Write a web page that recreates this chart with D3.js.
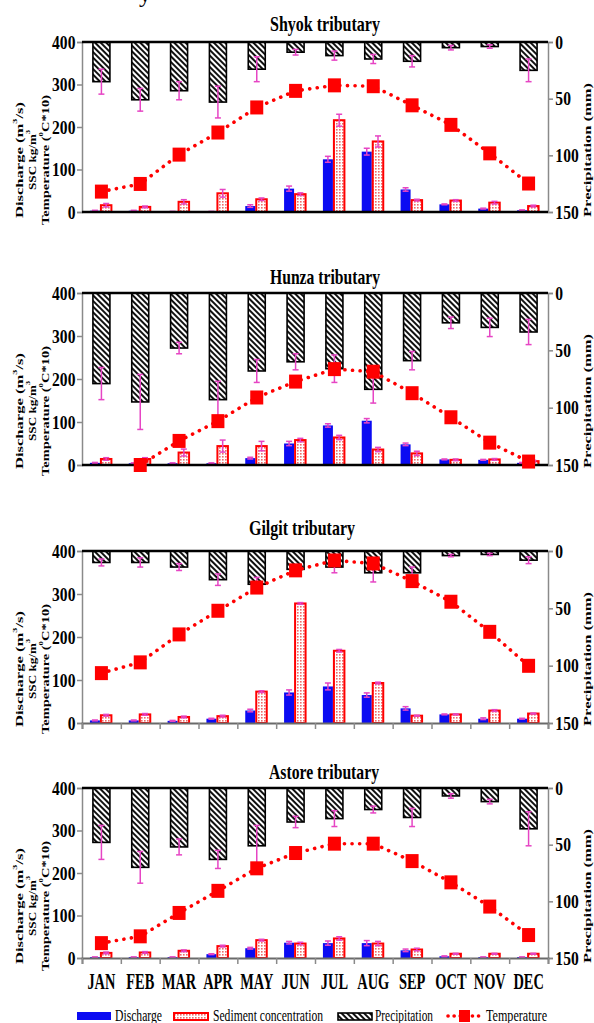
<!DOCTYPE html>
<html>
<head>
<meta charset="utf-8">
<script src="https://cdn.jsdelivr.net/npm/d3@7"></script>
<style>
  body { margin: 0; background: #fff; }
  text { font-family: "Liberation Serif", "Times New Roman", serif; }
</style>
</head>
<body>
<script>
var width = 594,
    height = 1023;

// months on the x axis
var months = ["JAN","FEB","MAR","APR","MAY","JUN","JUL","AUG","SEP","OCT","NOV","DEC"];
var tributaries = ["Shyok tributary","Hunza tributary","Gilgit tributary","Astore tributary"];

// Shyok
var shyokDischarge    = [3,3,1,1,14,55,124,142,53,18,8,4];
var shyokDischargeErr = [1,1,0.5,0.5,3,6,7,8,4,1,1,1];
var shyokSSC          = [16,12,24,44,30,42,216,166,28,27,22,14];
var shyokSSCErr       = [4,2,5,9,3,3,14,13,2,2,3,2];
var shyokPrecip       = [35,51,43,53,24,9,12,15,17,5,4,25];
var shyokPrecipErr    = [11,10,8,14,11,2.5,4,4,5,2,1.5,10];
var shyokTemp         = [48,66,135,187,246,285,298,296,251,205,138,67];

// Hunza (January temperature below the axis, not shown)
var hunzaDischarge    = [5,4,4,4,16,50,92,103,48,13,12,5];
var hunzaDischargeErr = [1,1,1,1,2,5,4,5,3,1,1,1];
var hunzaSSC          = [14,14,29,44,44,58,64,36,27,12,13,9];
var hunzaSSCErr       = [3,3,8,14,11,4,5,5,5,2,2,2];
var hunzaPrecip       = [79,95,48,93,68,60,66,84,59,26,30,34];
var hunzaPrecipErr    = [14,24,5,16,10,7,12,12,8,5,8,11];
var hunzaTemp         = [null,0,56,102,157,194,223,217,167,111,52,8];

// Gilgit
var gilgitDischarge    = [6,6,5,10,29,71,85,65,34,20,10,10];
var gilgitDischargeErr = [1,1,1,1,3,6,8,5,4,1,2,1];
var gilgitSSC          = [18,20,14,16,73,278,168,93,17,20,29,22];
var gilgitSSCErr       = [2,2,2,2,2,2,3,2,1,1,2,1];
var gilgitPrecip       = [10,10,14,25,29,16,14,19,19,4,3,8];
var gilgitPrecipErr    = [3,4,3,5,6,4,5,8,5,1,1,3];
var gilgitTemp         = [116,141,206,261,315,355,378,371,330,282,212,133];

// Astore
var astoreDischarge    = [2,2,2,9,23,36,35,35,18,4,2,2];
var astoreDischargeErr = [0.5,0.5,0.5,1,2,3,5,6,3,1,0.5,0.5];
var astoreSSC          = [12,13,17,28,42,34,46,34,20,10,10,10];
var astoreSSCErr       = [2,2,2,2,2,3,4,5,3,1,1,1];
var astorePrecip       = [48,70,52,63,51,30,27,19,26,7,12,36];
var astorePrecipErr    = [15,14,7,8,18,5,7,3,8,2,2,15];
var astoreTemp         = [35,51,106,158,211,247,269,269,228,178,121,54];

var leftTicks = [0,100,200,300,400];
var rightTicks = [0,50,100,150];

var discharge    = [shyokDischarge, hunzaDischarge, gilgitDischarge, astoreDischarge];
var dischargeErr = [shyokDischargeErr, hunzaDischargeErr, gilgitDischargeErr, astoreDischargeErr];
var ssc          = [shyokSSC, hunzaSSC, gilgitSSC, astoreSSC];
var sscErr       = [shyokSSCErr, hunzaSSCErr, gilgitSSCErr, astoreSSCErr];
var precip       = [shyokPrecip, hunzaPrecip, gilgitPrecip, astorePrecip];
var precipErr    = [shyokPrecipErr, hunzaPrecipErr, gilgitPrecipErr, astorePrecipErr];
var temp         = [shyokTemp, hunzaTemp, gilgitTemp, astoreTemp];

// panel layout
var plotLeft = 82, plotRight = 548;
var panelTop    = [42, 293, 551, 788];
var panelBottom = [212, 465, 723, 958];
var titleX      = [325, 325, 302, 324];
var titleY      = [31, 284, 535, 779];

var errColor = "#e645c4",
    blue = "#0b0bf2",
    red = "#ff0000";

var svg = d3.select("body").append("svg")
    .attr("width", width)
    .attr("height", height);

// fill patterns
var defs = svg.append("defs");
var hatch = defs.append("pattern")
    .attr("id", "hatch")
    .attr("patternUnits", "userSpaceOnUse")
    .attr("width", 4).attr("height", 4)
    .attr("patternTransform", "rotate(-45)");
hatch.append("rect").attr("width", 4).attr("height", 4).attr("fill", "#fff");
hatch.append("rect").attr("width", 2).attr("height", 4).attr("fill", "#111");

var dots = defs.append("pattern")
    .attr("id", "dots")
    .attr("patternUnits", "userSpaceOnUse")
    .attr("width", 3).attr("height", 3);
dots.append("rect").attr("width", 3).attr("height", 3).attr("fill", "#fff");
dots.append("rect").attr("width", 1.6).attr("height", 1.6).attr("fill", "#ef6a6a");

// cut-off text at the very top
svg.append("text")
    .attr("x", 145).attr("y", 2)
    .attr("text-anchor", "middle")
    .style("font-size", "24px")
    .text("y");

var x = d3.scaleBand().domain(months).range([plotLeft, plotRight]);
var xc = function(i) { return x(months[i]) + x.bandwidth() / 2; };

function drawPanel(p) {
    var pTop = panelTop[p], pBottom = panelBottom[p];
    var yL = d3.scaleLinear().domain([0, 400]).range([pBottom, pTop]);
    var yR = d3.scaleLinear().domain([0, 150]).range([pTop, pBottom]);
    var g = svg.append("g");

    // title
    g.append("text")
        .attr("x", titleX[p]).attr("y", titleY[p])
        .attr("text-anchor", "middle")
        .style("font-size", "22px").style("font-weight", "bold")
        .attr("textLength", p == 2 ? 106 : 110)
        .attr("lengthAdjust", "spacingAndGlyphs")
        .text(tributaries[p]);

    // precipitation bars hanging from the top
    g.selectAll(".precip")
        .data(precip[p])
        .enter().append("rect")
        .attr("x", function(d, i) { return xc(i) - 8.5; })
        .attr("y", pTop)
        .attr("width", 17)
        .attr("height", function(d) { return yR(d) - pTop; })
        .attr("fill", "url(#hatch)")
        .attr("stroke", "#000")
        .attr("stroke-width", 1.6);

    // discharge bars
    g.selectAll(".dis")
        .data(discharge[p])
        .enter().append("rect")
        .attr("x", function(d, i) { return xc(i) - 11.5; })
        .attr("y", function(d) { return yL(d); })
        .attr("width", 10)
        .attr("height", function(d) { return pBottom - yL(d); })
        .attr("fill", blue);

    // sediment bars
    g.selectAll(".ssc")
        .data(ssc[p])
        .enter().append("rect")
        .attr("x", function(d, i) { return xc(i) - 0.5; })
        .attr("y", function(d) { return yL(d); })
        .attr("width", 10.5)
        .attr("height", function(d) { return pBottom - yL(d); })
        .attr("fill", "url(#dots)")
        .attr("stroke", red)
        .attr("stroke-width", 2);

    // error bars
    var errs = [];
    for (var i = 0; i < 12; i++) {
        errs.push({ x: xc(i), y1: yR(precip[p][i] - precipErr[p][i]), y2: yR(precip[p][i] + precipErr[p][i]) });
        errs.push({ x: xc(i) - 6.5, y1: yL(discharge[p][i] - dischargeErr[p][i]), y2: yL(discharge[p][i] + dischargeErr[p][i]) });
        errs.push({ x: xc(i) + 4.75, y1: yL(ssc[p][i] - sscErr[p][i]), y2: yL(ssc[p][i] + sscErr[p][i]) });
    }
    var eb = g.selectAll(".err")
        .data(errs)
        .enter().append("g")
        .attr("stroke", errColor)
        .attr("stroke-width", 1.5);
    eb.append("line")
        .attr("x1", function(d) { return d.x; }).attr("x2", function(d) { return d.x; })
        .attr("y1", function(d) { return d.y1; }).attr("y2", function(d) { return d.y2; });
    eb.append("line")
        .attr("x1", function(d) { return d.x - 3; }).attr("x2", function(d) { return d.x + 3; })
        .attr("y1", function(d) { return d.y1; }).attr("y2", function(d) { return d.y1; });
    eb.append("line")
        .attr("x1", function(d) { return d.x - 3; }).attr("x2", function(d) { return d.x + 3; })
        .attr("y1", function(d) { return d.y2; }).attr("y2", function(d) { return d.y2; });

    // axes
    var leftAx = g.append("g")
        .attr("transform", "translate(" + plotLeft + ",0)")
        .call(d3.axisLeft(yL).tickValues(leftTicks).tickSize(5).tickPadding(3));
    var rightAx = g.append("g")
        .attr("transform", "translate(" + plotRight + ",0)")
        .call(d3.axisRight(yR).tickValues(rightTicks).tickSize(5).tickPadding(4));
    [leftAx, rightAx].forEach(function(ax) {
        ax.select(".domain").attr("stroke", "#8a8a8a").attr("stroke-width", 1.5);
        ax.selectAll(".tick line").attr("stroke", "#8a8a8a").attr("stroke-width", 1.5);
        ax.selectAll(".tick text")
            .attr("fill", "#000")
            .style("font-family", "'Liberation Serif', serif")
            .style("font-size", "19px")
            .style("font-weight", "bold")
            .attr("transform", "scale(0.82,1)");
    });

    if (p < 2) {
        g.append("line")
            .attr("x1", plotLeft).attr("x2", plotRight)
            .attr("y1", pBottom).attr("y2", pBottom)
            .attr("stroke", "#000").attr("stroke-width", 2.5);
    } else {
        var xb = d3.scaleLinear().domain([0, 12]).range([plotLeft, plotRight]);
        var bx = g.append("g")
            .attr("transform", "translate(0," + pBottom + ")")
            .call(d3.axisBottom(xb).ticks(12).tickSize(6).tickFormat(""));
        bx.select(".domain").attr("stroke", "#6a6a6a").attr("stroke-width", 1.8);
        bx.selectAll(".tick line").attr("stroke", "#8a8a8a").attr("stroke-width", 1.5);
    }
    g.append("line")
        .attr("x1", plotLeft).attr("x2", plotRight)
        .attr("y1", pTop).attr("y2", pTop)
        .attr("stroke", "#000").attr("stroke-width", 2.5);

    if (p == 3) {
        var mx = g.append("g")
            .attr("transform", "translate(0," + pBottom + ")")
            .call(d3.axisBottom(x).tickSize(0).tickPadding(14));
        mx.select(".domain").remove();
        mx.selectAll(".tick text")
            .attr("fill", "#000")
            .style("font-family", "'Liberation Serif', serif")
            .style("font-size", "24px")
            .style("font-weight", "bold")
            .attr("transform", "scale(0.6,1)");
    }

    // temperature line and markers
    var tdata = temp[p].map(function(d, i) { return { i: i, v: d }; });
    g.append("path")
        .datum(tdata)
        .attr("fill", "none")
        .attr("stroke", red)
        .attr("stroke-width", 3.6)
        .attr("stroke-linecap", "round")
        .attr("stroke-dasharray", "0.1 7.5")
        .attr("d", d3.line()
            .defined(function(d) { return d.v != null; })
            .x(function(d) { return xc(d.i); })
            .y(function(d) { return yL(d.v); }));
    g.selectAll(".tmark")
        .data(tdata.filter(function(d) { return d.v != null; }))
        .enter().append("rect")
        .attr("x", function(d) { return xc(d.i) - 6.5; })
        .attr("y", function(d) { return yL(d.v) - 7; })
        .attr("width", 13)
        .attr("height", 14)
        .attr("fill", red);

    // axis titles
    var cy = pTop + 118;
    var yt = [
        { x: 19, len: 116, parts: [["Discharge (m", 0], ["3", 1], ["/s)", 0]] },
        { x: 32, len: 60,  parts: [["SSC kg/m", 0], ["3", 1]] },
        { x: 45, len: 130, parts: [["Temperature (", 0], ["0", 1], ["C*10)", 0]] }
    ];
    yt.forEach(function(t) {
        var tx = g.append("text")
            .attr("transform", "translate(" + t.x + "," + cy + ") rotate(-90) scale(1,0.8)")
            .attr("text-anchor", "middle")
            .attr("dominant-baseline", "central")
            .attr("textLength", t.len)
            .attr("lengthAdjust", "spacingAndGlyphs")
            .style("font-size", "13px")
            .style("font-weight", "bold");
        t.parts.forEach(function(s) {
            var ts = tx.append("tspan").text(s[0]);
            if (s[1]) ts.attr("baseline-shift", "super").style("font-size", "8px");
        });
    });
    g.append("text")
        .attr("transform", "translate(588," + (pTop + 108) + ") rotate(-90) scale(1,0.8)")
        .attr("text-anchor", "middle")
        .attr("dominant-baseline", "central")
        .attr("textLength", 134)
        .attr("lengthAdjust", "spacingAndGlyphs")
        .style("font-size", "13px")
        .style("font-weight", "bold")
        .text("Precipitation (mm)");
}

for (var p = 0; p < 4; p++) drawPanel(p);

// legend
var lg = svg.append("g");
var ly = 1012;
lg.append("rect").attr("x", 77).attr("y", ly).attr("width", 34).attr("height", 8).attr("fill", blue);
lg.append("rect").attr("x", 174).attr("y", ly + 1).attr("width", 34).attr("height", 7)
    .attr("fill", "url(#dots)").attr("stroke", red).attr("stroke-width", 2);
lg.append("rect").attr("x", 338).attr("y", ly + 1).attr("width", 34).attr("height", 7)
    .attr("fill", "url(#hatch)").attr("stroke", "#000").attr("stroke-width", 1.6);
lg.append("line").attr("x1", 448).attr("x2", 482).attr("y1", ly + 4).attr("y2", ly + 4)
    .attr("stroke", red).attr("stroke-width", 3.6).attr("stroke-linecap", "round")
    .attr("stroke-dasharray", "0.1 6");
lg.append("rect").attr("x", 459).attr("y", ly - 2).attr("width", 11).attr("height", 12).attr("fill", red);

var legendText = [
    { x: 115, len: 47,  t: "Discharge" },
    { x: 213, len: 110, t: "Sediment concentration" },
    { x: 375, len: 58,  t: "Precipitation" },
    { x: 486, len: 61,  t: "Temperature" }
];
lg.selectAll(".ltext")
    .data(legendText)
    .enter().append("text")
    .attr("x", function(d) { return d.x; })
    .attr("y", ly + 9)
    .attr("textLength", function(d) { return d.len; })
    .attr("lengthAdjust", "spacingAndGlyphs")
    .style("font-size", "16px")
    .text(function(d) { return d.t; });
</script>
</body>
</html>
